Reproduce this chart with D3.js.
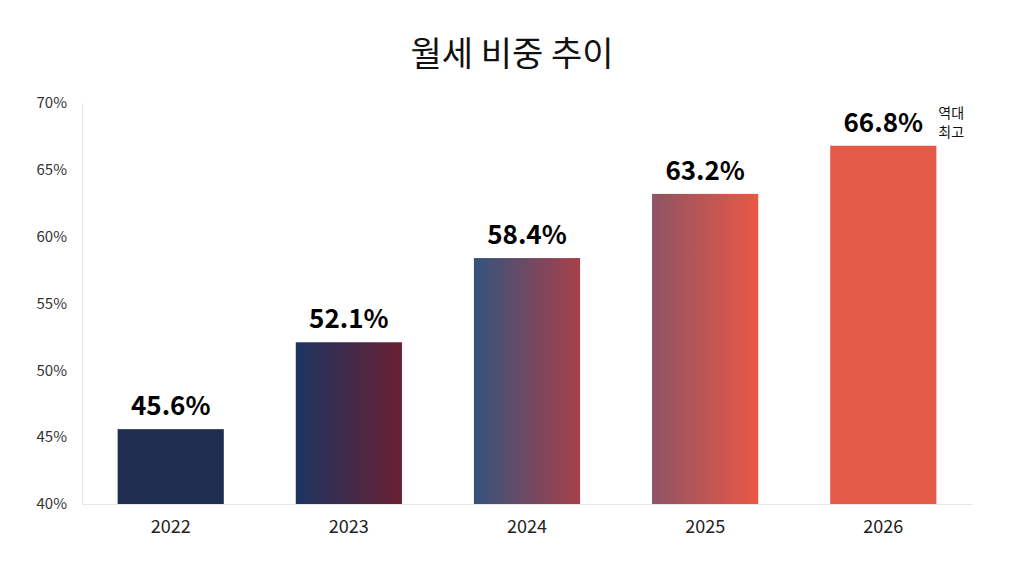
<!DOCTYPE html><html><head><meta charset="utf-8"><script src="https://cdn.jsdelivr.net/npm/d3@7"></script>
<style>body{margin:0;background:#fff}text{font-family:"Noto Sans CJK KR","Noto Sans",sans-serif}</style></head><body><svg id="c" width="1024" height="572"></svg>
<script>
const years=["2022","2023","2024","2025","2026"];
const values=[45.6,52.1,58.4,63.2,66.8];
const yTicks=[40,45,50,55,60,65,70];
const gradStart=["#1f2d50","#1b3560","#33537c","#8e5464","#e35a47"];
const gradEnd=["#1f2d50","#6a1f34","#a8404a","#ea5845","#e35a47"];
const svg=d3.select("#c");
const x=d3.scaleBand().domain(years).range([82,972]).paddingInner(0.404).paddingOuter(0.2);
const y=d3.scaleLinear().domain([40,70]).range([504,103]);
const defs=svg.append("defs");
years.forEach((yr,i)=>{const g=defs.append("linearGradient").attr("id","g"+i);
g.append("stop").attr("offset","0%").attr("stop-color",gradStart[i]);
g.append("stop").attr("offset","100%").attr("stop-color",gradEnd[i]);});
svg.append("text").attr("x",512).attr("y",66).attr("text-anchor","middle").attr("font-size",34).attr("fill","#111").text("월세 비중 추이");
const ya=svg.append("g").attr("transform","translate(82,0)").call(d3.axisLeft(y).tickValues(yTicks).tickFormat(d=>d+"%").tickSize(0).tickPadding(15));
ya.select(".domain").attr("stroke","#e6e6e6");
ya.selectAll("text").attr("font-size",15).attr("fill","#333").attr("font-family","Liberation Sans, sans-serif");
const xa=svg.append("g").attr("transform","translate(0,504)").call(d3.axisBottom(x).tickSize(0).tickPadding(16));
xa.select(".domain").attr("stroke","#e6e6e6");
xa.selectAll("text").attr("font-size",18).attr("fill","#222").attr("font-family","Liberation Sans, sans-serif");
svg.selectAll("rect.b").data(values).join("rect").attr("class","b")
.attr("x",(d,i)=>x(years[i])).attr("width",x.bandwidth()).attr("y",d=>y(d)).attr("height",d=>504-y(d)).attr("fill",(d,i)=>`url(#g${i})`);
svg.selectAll("text.v").data(values).join("text").attr("class","v")
.attr("x",(d,i)=>x(years[i])+x.bandwidth()/2).attr("y",d=>y(d)-14).attr("text-anchor","middle")
.attr("font-size",26).attr("font-weight","bold").attr("fill","#000").attr("font-family","Liberation Sans, sans-serif").text(d=>d.toFixed(1)+"%");
const lx=x("2026")+x.bandwidth()+2;
svg.append("text").attr("x",lx).attr("y",y(66.8)-28).attr("font-size",14).attr("fill","#111").text("역대");
svg.append("text").attr("x",lx).attr("y",y(66.8)-9).attr("font-size",14).attr("fill","#111").text("최고");
</script></body></html>
